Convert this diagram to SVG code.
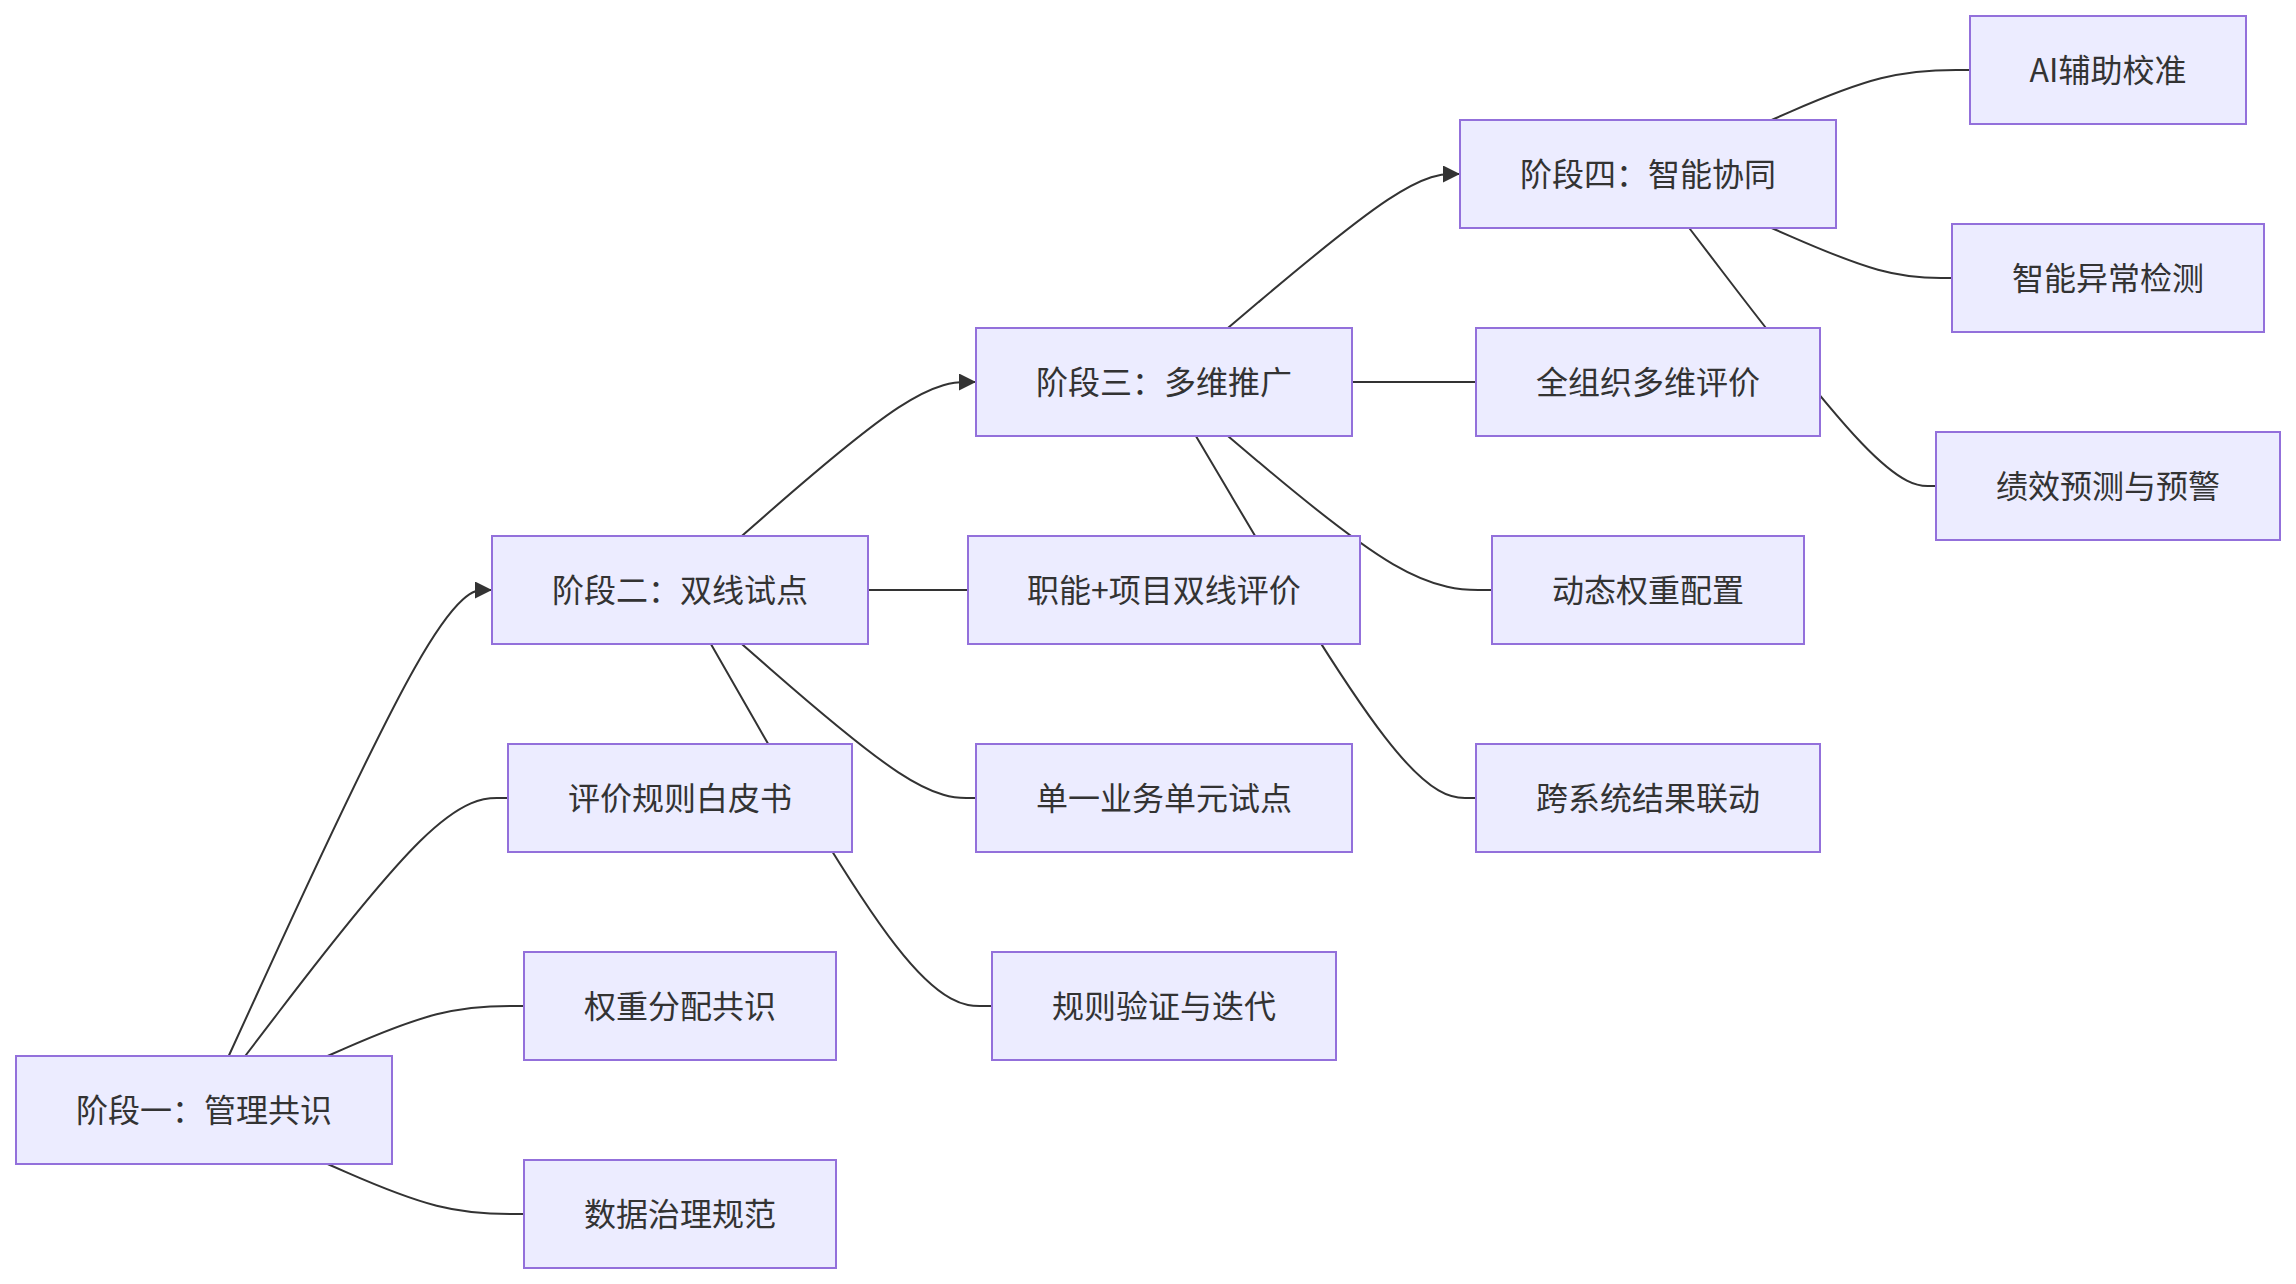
<svg xmlns="http://www.w3.org/2000/svg" width="2296" height="1284" viewBox="0 0 2296 1284">
<style>
.node rect{fill:#ECECFF;stroke:#9370DB;stroke-width:2}
.node text{font-family:"Noto Sans CJK SC","Noto Sans",sans-serif;font-size:32px;fill:#333333;text-anchor:middle;dominant-baseline:central}
.edge{fill:none;stroke:#333333;stroke-width:2}
</style>
<defs>
<marker id="arrow" viewBox="0 0 10 10" refX="10" refY="5" markerUnits="userSpaceOnUse" markerWidth="17" markerHeight="17" orient="auto">
<path d="M0,0 L10,5 L0,10 z" fill="#333333"/>
</marker>
</defs>
<rect width="2296" height="1284" fill="#ffffff"/>
<g id="connectors">
<path class="edge" marker-end="url(#arrow)" d="M228.7,1056 L264.25,978.33 C299.8,900.67 370.9,745.33 414.8,667.67 C458.67,590 475.33,590 483.67,590 L492,590"/>
<path class="edge" d="M245.2,1056 L278,1013 C310.8,970 376.4,884 420.2,841 C464,798 486,798 497,798 L508,798"/>
<path class="edge" d="M327.6,1056 L346.67,1047.67 C365.73,1039.33 403.87,1022.67 436.6,1014.33 C469.33,1006 496.67,1006 510.33,1006 L524,1006"/>
<path class="edge" d="M327.6,1164 L346.67,1172.33 C365.73,1180.67 403.87,1197.33 436.6,1205.67 C469.33,1214 496.67,1214 510.33,1214 L524,1214"/>
<path class="edge" marker-end="url(#arrow)" d="M741.8,536 L771.17,510.33 C800.53,484.67 859.27,433.33 898.3,407.67 C937.33,382 956.67,382 966.33,382 L976,382"/>
<path class="edge" d="M868,590 L968,590"/>
<path class="edge" d="M741.8,644 L771.17,669.67 C800.53,695.33 859.27,746.67 898.3,772.33 C937.33,798 956.67,798 966.33,798 L976,798"/>
<path class="edge" d="M710.9,644 L745.42,704.33 C779.93,764.67 848.97,885.33 895.82,945.67 C942.67,1006 967.33,1006 979.67,1006 L992,1006"/>
<path class="edge" marker-end="url(#arrow)" d="M1227.9,328 L1258.25,302.33 C1288.6,276.67 1349.3,225.33 1387.98,199.67 C1426.67,174 1443.33,174 1451.67,174 L1460,174"/>
<path class="edge" d="M1352,382 L1476,382"/>
<path class="edge" d="M1227.9,436 L1258.25,461.67 C1288.6,487.33 1349.3,538.67 1393.32,564.33 C1437.33,590 1464.67,590 1478.33,590 L1492,590"/>
<path class="edge" d="M1195.9,436 L1231.58,496.33 C1267.27,556.67 1338.63,677.33 1385.32,737.67 C1432,798 1454,798 1465,798 L1476,798"/>
<path class="edge" d="M1771.6,120 L1790.67,111.67 C1809.73,103.33 1847.87,86.67 1880.93,78.33 C1914,70 1942,70 1956,70 L1970,70"/>
<path class="edge" d="M1771.6,228 L1790.67,236.33 C1809.73,244.67 1847.87,261.33 1877.93,269.67 C1908,278 1930,278 1941,278 L1952,278"/>
<path class="edge" d="M1689.2,228 L1722,271 C1754.8,314 1820.4,400 1861.53,443 C1902.67,486 1919.33,486 1927.67,486 L1936,486"/>
</g>
<g id="n1" class="node"><rect x="16" y="1056" width="376" height="108"/><text x="204" y="1108">阶段一：管理共识</text></g>
<g id="n2" class="node"><rect x="492" y="536" width="376" height="108"/><text x="680" y="588">阶段二：双线试点</text></g>
<g id="n3" class="node"><rect x="976" y="328" width="376" height="108"/><text x="1164" y="380">阶段三：多维推广</text></g>
<g id="n4" class="node"><rect x="1460" y="120" width="376" height="108"/><text x="1648" y="172">阶段四：智能协同</text></g>
<g id="a1" class="node"><rect x="508" y="744" width="344" height="108"/><text x="680" y="796">评价规则白皮书</text></g>
<g id="a2" class="node"><rect x="524" y="952" width="312" height="108"/><text x="680" y="1004">权重分配共识</text></g>
<g id="a3" class="node"><rect x="524" y="1160" width="312" height="108"/><text x="680" y="1212">数据治理规范</text></g>
<g id="b1" class="node"><rect x="968" y="536" width="392" height="108"/><text x="1164" y="588">职能+项目双线评价</text></g>
<g id="b2" class="node"><rect x="976" y="744" width="376" height="108"/><text x="1164" y="796">单一业务单元试点</text></g>
<g id="b3" class="node"><rect x="992" y="952" width="344" height="108"/><text x="1164" y="1004">规则验证与迭代</text></g>
<g id="c1" class="node"><rect x="1476" y="328" width="344" height="108"/><text x="1648" y="380">全组织多维评价</text></g>
<g id="c2" class="node"><rect x="1492" y="536" width="312" height="108"/><text x="1648" y="588">动态权重配置</text></g>
<g id="c3" class="node"><rect x="1476" y="744" width="344" height="108"/><text x="1648" y="796">跨系统结果联动</text></g>
<g id="d1" class="node"><rect x="1970" y="16" width="276" height="108"/><text x="2108" y="68">AI辅助校准</text></g>
<g id="d2" class="node"><rect x="1952" y="224" width="312" height="108"/><text x="2108" y="276">智能异常检测</text></g>
<g id="d3" class="node"><rect x="1936" y="432" width="344" height="108"/><text x="2108" y="484">绩效预测与预警</text></g>
</svg>
